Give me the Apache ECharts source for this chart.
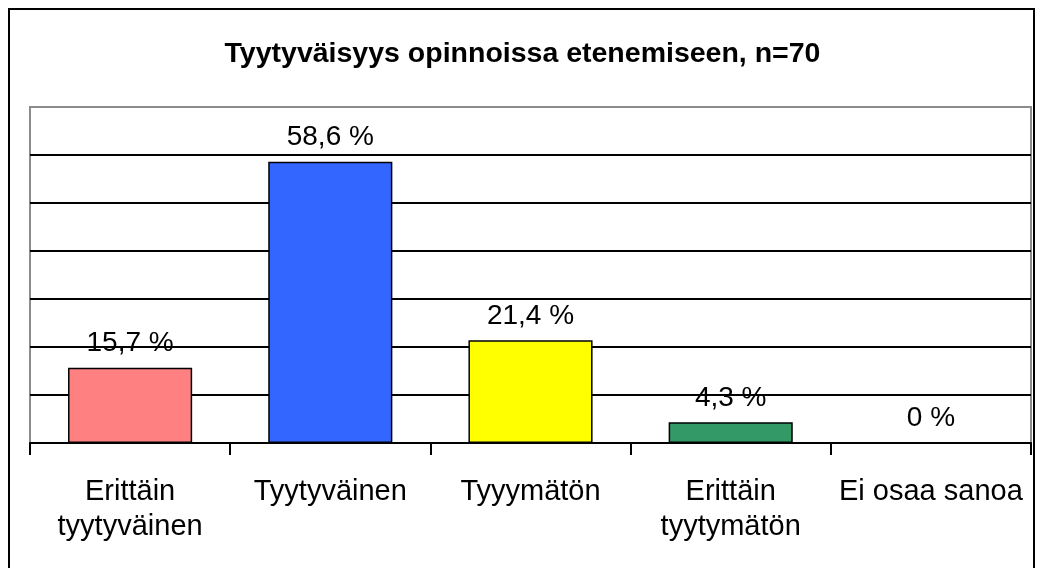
<!DOCTYPE html>
<html>
<head>
<meta charset="utf-8">
<script src="https://cdn.jsdelivr.net/npm/echarts@6/dist/echarts.min.js"></script>
<style>
  html, body { margin: 0; padding: 0; background: #fff; }
  #main { width: 1045px; height: 568px; }
</style>
</head>
<body>
<div id="main"></div>
<script>
// data
const categories = ['Erittäin\ntyytyväinen', 'Tyytyväinen', 'Tyyymätön', 'Erittäin\ntyytymätön', 'Ei osaa sanoa']
const percents = [15.7, 58.6, 21.4, 4.3, 0]
const valueLabels = ['15,7 %', '58,6 %', '21,4 %', '4,3 %', '0 %']
const barColors = ['#FF8080', '#3366FF', '#FFFF00', '#339966', '#993366']

const chart = echarts.init(document.getElementById('main'))

const option = {
  animation: false,
  backgroundColor: '#fff',
  textStyle: { fontFamily: 'Liberation Sans, Arial, sans-serif' },
  title: {
    text: 'Tyytyväisyys opinnoissa etenemiseen, n=70',
    left: 'center',
    top: 35,
    textStyle: { fontSize: 28.5, fontWeight: 'bold', color: '#000', fontFamily: 'Liberation Sans, Arial, sans-serif' }
  },
  graphic: [{
    type: 'rect',
    shape: { x: 9, y: 9, width: 1025, height: 570 },
    style: { fill: 'none', stroke: '#000', lineWidth: 2 },
    silent: true
  }],
  grid: {
    left: 30, right: 14, top: 107, bottom: 125,
    show: true,
    borderColor: '#8c8c8c',
    borderWidth: 2
  },
  xAxis: {
    type: 'category',
    data: categories,
    axisLine: { lineStyle: { color: '#000', width: 2 } },
    axisTick: { show: true, length: 12, lineStyle: { color: '#000', width: 2 } },
    axisLabel: {
      color: '#000', fontSize: 29, lineHeight: 35, margin: 31, interval: 0,
      fontFamily: 'Liberation Sans, Arial, sans-serif'
    }
  },
  yAxis: {
    type: 'value',
    min: 0, max: 70, interval: 10,
    axisLabel: { show: false },
    axisTick: { show: false },
    axisLine: { show: false },
    splitLine: { show: true, showMaxLine: false, lineStyle: { color: '#000', width: 2 } }
  },
  series: [{
    type: 'bar',
    barWidth: '62%',
    data: percents.map((v, i) => ({
      value: v,
      itemStyle: { color: barColors[i], borderColor: '#000', borderWidth: 1.5 }
    })),
    label: {
      show: true,
      position: 'top',
      distance: 10,
      color: '#000',
      fontSize: 28,
      fontFamily: 'Liberation Sans, Arial, sans-serif',
      formatter: p => valueLabels[p.dataIndex]
    }
  }]
}

chart.setOption(option)
</script>
</body>
</html>
